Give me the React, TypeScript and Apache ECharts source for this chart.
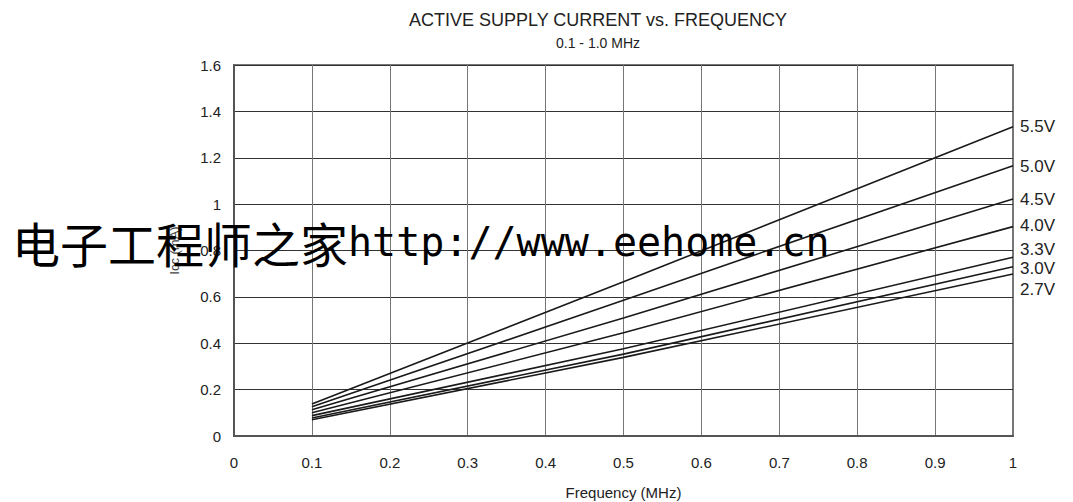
import React, { useEffect, useRef } from "react";
import * as echarts from "echarts";

const frequencies = [0.1, 0.5, 1.0];
const seriesNames = ["5.5V", "5.0V", "4.5V", "4.0V", "3.3V", "3.0V", "2.7V"];
const v55 = [0.138, 0.665, 1.334];
const v50 = [0.126, 0.585, 1.166];
const v45 = [0.113, 0.509, 1.022];
const v40 = [0.100, 0.445, 0.903];
const v33 = [0.088, 0.376, 0.771];
const v30 = [0.078, 0.353, 0.730];
const v27 = [0.070, 0.339, 0.699];
const seriesValues = [v55, v50, v45, v40, v33, v30, v27];
const labelOffsets = [0, 1, 0, -1, -8, 2, 16];

const titleText = "ACTIVE SUPPLY CURRENT vs. FREQUENCY";
const subtitleText = "0.1 - 1.0 MHz";
const xName = "Frequency (MHz)";
const yName = "Icc (mA)";
const watermarkCJK = "电子工程师之家";
const watermarkURL = "http://www.eehome.cn";

export default function App() {
  const ref = useRef<HTMLDivElement>(null);
  useEffect(() => {
    if (!ref.current) return;
    const chart = echarts.init(ref.current, null, { renderer: "svg", width: 1073, height: 502 });
    const font = "Liberation Sans, Arial, sans-serif";
    chart.setOption({
      animation: false,
      backgroundColor: "#fff",
      textStyle: { fontFamily: font },
      title: {
        text: titleText,
        subtext: subtitleText,
        left: 593,
        top: 6,
        textAlign: "center",
        itemGap: 7,
        textStyle: { fontFamily: font, fontSize: 18, fontWeight: "normal", color: "#222" },
        subtextStyle: { fontFamily: font, fontSize: 14, color: "#222" },
      },
      grid: {
        left: 234,
        right: 60,
        top: 65,
        bottom: 66,
        show: true,
        borderColor: "#777",
        borderWidth: 2,
        containLabel: false,
        outerBoundsMode: "none",
      },
      xAxis: {
        type: "value",
        min: 0,
        max: 1,
        interval: 0.1,
        name: xName,
        nameLocation: "middle",
        nameGap: 49,
        nameTextStyle: { fontFamily: font, fontSize: 15, color: "#222" },
        axisLine: { show: true, lineStyle: { color: "#555", width: 2 } },
        axisTick: { show: false },
        axisLabel: { fontFamily: font, fontSize: 15, color: "#222", margin: 19 },
        splitLine: { show: true, lineStyle: { color: "#777", width: 1 } },
      },
      yAxis: {
        type: "value",
        min: 0,
        max: 1.6,
        interval: 0.2,
        name: yName,
        nameLocation: "middle",
        nameGap: 53,
        nameTextStyle: { fontFamily: font, fontSize: 13, color: "#444" },
        axisLine: { show: true, lineStyle: { color: "#555", width: 2 } },
        axisTick: { show: false },
        axisLabel: { fontFamily: font, fontSize: 15, color: "#222", margin: 13 },
        splitLine: { show: true, lineStyle: { color: "#333", width: 1 } },
      },
      series: seriesNames.map((name, i) => ({
        name,
        type: "line",
        data: frequencies.map((f, j) => [f, seriesValues[i][j]]),
        symbol: "none",
        lineStyle: { color: "#1a1a1a", width: 1.6 },
        endLabel: {
          show: true,
          formatter: name,
          fontFamily: font,
          fontSize: 17,
          color: "#222",
          distance: 7,
          offset: [0, labelOffsets[i]],
        },
        z: 3,
      })),
      graphic: [
        {
          type: "text",
          left: 12,
          top: 218,
          z: 100,
          style: {
            text: "{c|" + watermarkCJK + "}{l|" + watermarkURL + "}",
            fill: "#000",
            rich: {
              c: { fontFamily: "Noto Sans CJK SC", fontSize: 48, fill: "#000", color: "#000" },
              l: { fontFamily: "DejaVu Sans Mono, Liberation Mono, monospace", fontSize: 40, fill: "#000", color: "#000" },
            },
          },
        },
      ],
    });
    return () => chart.dispose();
  }, []);
  return <div ref={ref} style={{ width: 1073, height: 502, position: "absolute", left: 0, top: 0 }} />;
}
